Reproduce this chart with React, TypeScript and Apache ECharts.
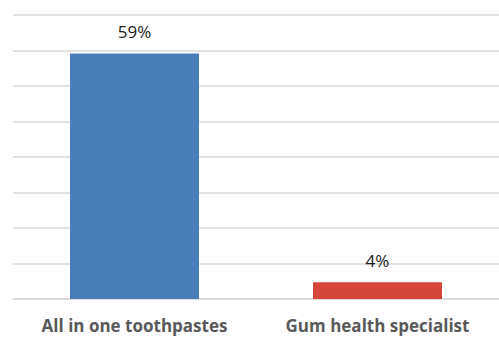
import React, { useEffect, useRef } from "react";
import * as echarts from "echarts";

const categories = ["All in one toothpastes", "Gum health specialist"];
const values = [59, 4];
const barColors = ["#4a7ebb", "#d6453a"];

export default function App() {
  const ref = useRef<HTMLDivElement>(null);
  useEffect(() => {
    if (!ref.current) return;
    const chart = echarts.init(ref.current, null, { renderer: "svg" });
    chart.setOption({
      animation: false,
      backgroundColor: "#ffffff",
      grid: { left: 13, width: 490, top: 15, bottom: 39, containLabel: false },
      xAxis: {
        type: "category",
        data: categories,
        axisLine: { show: true, lineStyle: { color: "#d9d9d9", width: 1.5 } },
        axisTick: { show: false },
        axisLabel: {
          color: "#595959",
          fontFamily: "Open Sans",
          fontWeight: "bold",
          fontSize: 17,
          margin: 18,
        },
      },
      yAxis: {
        type: "value",
        min: 0,
        max: 68.24,
        interval: 8.53,
        axisLabel: { show: false },
        axisLine: { show: false },
        axisTick: { show: false },
        splitLine: { lineStyle: { color: "#d9d9d9", width: 1.5 } },
      },
      series: [
        {
          type: "bar",
          barWidth: 129,
          data: values.map((v, i) => ({ value: v, itemStyle: { color: barColors[i] } })),
          label: {
            show: true,
            position: "top",
            distance: 13,
            formatter: "{c}%",
            color: "#1a1a1a",
            fontFamily: "Open Sans",
            fontSize: 17,
          },
        },
      ],
    });
    return () => chart.dispose();
  }, []);
  return (
    <div
      ref={ref}
      style={{ position: "fixed", left: 0, top: 0, width: 499, height: 338 }}
    />
  );
}
